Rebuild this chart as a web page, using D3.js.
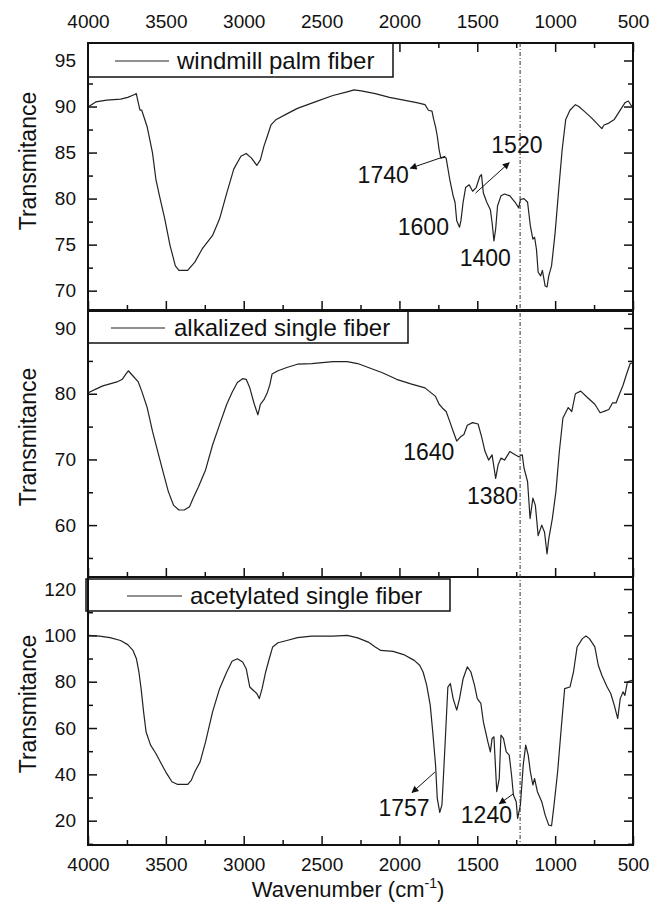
<!DOCTYPE html>
<html>
<head>
<meta charset="utf-8">
<script src="https://cdn.jsdelivr.net/npm/d3@7"></script>
<style>
  body { margin: 0; background: #fff; }
  svg text { font-family: "Liberation Sans", Arial, sans-serif; fill: #111; }
</style>
</head>
<body>
<svg id="chart" width="651" height="902"></svg>
<script>
// ---- data ----
var wnTicks = [4000, 3500, 3000, 2500, 2000, 1500, 1000, 500]
var wnMinor = [3750, 3250, 2750, 2250, 1750, 1250, 750]

var seriesNames = ['windmill palm fiber', 'alkalized single fiber', 'acetylated single fiber']

// [wavenumber, transmitance]
var palmFiber = [[3995,90.0],[3950,90.5],[3880,90.7],[3790,90.8],[3745,91.0],[3700,91.3],[3690,91.4],[3677,90.4],[3666,89.6],[3655,89.6],[3620,87.8],[3586,85.0],[3564,82.1],[3541,80.3],[3507,77.8],[3473,74.9],[3439,72.7],[3416,72.2],[3360,72.2],[3314,73.1],[3268,74.5],[3200,76.0],[3155,77.8],[3109,80.6],[3064,83.2],[3018,84.6],[2984,84.9],[2950,84.4],[2916,83.6],[2893,84.2],[2870,85.7],[2848,86.8],[2825,88.0],[2791,88.6],[2723,89.2],[2655,89.8],[2541,90.5],[2427,91.2],[2336,91.6],[2291,91.8],[2245,91.7],[2155,91.4],[2064,91.0],[1973,90.7],[1882,90.4],[1836,90.2],[1814,89.6],[1791,89.5],[1780,88.6],[1768,87.8],[1757,86.8],[1745,85.3],[1734,84.4],[1711,84.5],[1700,84.4],[1677,82.1],[1655,80.3],[1643,79.6],[1632,77.6],[1614,76.9],[1605,77.6],[1591,79.6],[1575,81.2],[1552,81.5],[1530,80.8],[1507,81.2],[1484,82.4],[1473,82.6],[1461,80.6],[1439,79.6],[1416,78.8],[1405,77.4],[1393,75.4],[1382,76.7],[1370,79.2],[1348,80.3],[1325,80.5],[1291,80.3],[1257,79.6],[1234,79.0],[1223,79.9],[1200,80.0],[1177,79.6],[1159,77.0],[1143,75.6],[1132,75.8],[1120,74.5],[1109,72.0],[1093,71.6],[1082,72.2],[1064,70.5],[1052,70.4],[1041,71.6],[1023,72.7],[1000,76.3],[977,81.0],[955,85.3],[932,88.6],[905,89.6],[870,90.2],[848,90.0],[814,89.5],[768,88.8],[734,88.2],[700,87.6],[686,88.0],[655,88.2],[620,88.6],[586,89.5],[552,90.4],[530,90.6],[507,90.0]]

var alkalizedFiber = [[3995,80.2],[3950,80.7],[3905,81.2],[3859,81.5],[3814,81.8],[3780,82.2],[3757,83.0],[3741,83.5],[3711,82.7],[3677,81.8],[3655,80.4],[3620,77.9],[3586,74.3],[3552,71.2],[3518,68.1],[3484,65.1],[3450,63.0],[3416,62.3],[3382,62.3],[3348,62.8],[3325,64.1],[3291,65.8],[3245,68.4],[3200,72.2],[3155,75.3],[3109,78.4],[3075,80.2],[3041,81.7],[3007,82.3],[2984,82.2],[2961,80.9],[2932,78.4],[2909,76.8],[2893,78.4],[2870,79.1],[2848,80.2],[2832,81.4],[2818,83.0],[2780,83.5],[2723,84.0],[2655,84.5],[2564,84.6],[2427,84.9],[2336,84.9],[2268,84.6],[2200,84.0],[2109,83.2],[2018,82.2],[1927,81.5],[1836,80.9],[1768,79.6],[1745,78.4],[1723,77.8],[1700,77.3],[1677,75.8],[1655,74.3],[1632,72.8],[1609,73.4],[1586,73.8],[1564,75.2],[1530,75.6],[1495,75.4],[1473,73.5],[1450,71.2],[1427,69.9],[1405,70.7],[1382,67.1],[1366,69.2],[1348,70.2],[1325,69.9],[1291,71.2],[1257,70.7],[1234,70.4],[1211,70.7],[1200,68.7],[1177,66.6],[1161,61.0],[1143,64.1],[1127,63.0],[1109,58.4],[1086,60.0],[1068,58.9],[1052,55.6],[1041,57.9],[1018,61.0],[995,65.1],[973,71.2],[950,76.3],[916,77.9],[893,77.3],[870,80.0],[836,80.4],[791,79.4],[745,78.4],[711,77.1],[677,77.4],[655,77.6],[632,78.6],[609,78.6],[586,80.0],[564,81.3],[541,83.0],[518,84.6],[502,84.7]]

var acetylatedFiber = [[3995,100],[3927,99.7],[3859,99.0],[3791,97.8],[3745,96.0],[3711,93.5],[3689,89.9],[3673,84.2],[3659,77.0],[3643,67.0],[3627,58.3],[3598,52.6],[3564,49.0],[3530,44.7],[3495,40.4],[3461,36.8],[3427,35.7],[3359,35.7],[3336,37.5],[3314,41.1],[3280,45.4],[3245,54.0],[3200,67.0],[3155,77.0],[3109,84.2],[3075,88.8],[3041,89.9],[3007,88.5],[2984,85.6],[2961,77.7],[2939,76.3],[2916,74.9],[2900,72.7],[2882,77.0],[2859,84.2],[2836,89.9],[2814,95.0],[2780,96.8],[2723,97.8],[2655,99.0],[2564,99.7],[2427,99.7],[2336,100],[2268,98.9],[2200,97.1],[2155,95.0],[2120,93.5],[2041,93.1],[1973,91.7],[1905,89.2],[1870,87.1],[1848,84.2],[1825,78.5],[1802,69.8],[1786,58.3],[1768,44.0],[1757,29.6],[1741,23.6],[1727,26.8],[1718,38.2],[1705,55.5],[1689,77.7],[1673,79.2],[1655,72.7],[1632,67.7],[1614,72.7],[1591,81.3],[1564,86.4],[1541,84.2],[1518,78.5],[1500,72.7],[1477,70.6],[1461,62.7],[1432,54.0],[1416,49.7],[1405,55.5],[1393,56.2],[1375,32.5],[1359,38.2],[1348,56.9],[1332,55.5],[1314,49.7],[1295,48.3],[1280,39.7],[1268,31.1],[1250,28.2],[1241,21.0],[1223,26.8],[1205,44.0],[1189,52.6],[1173,48.3],[1159,41.1],[1143,35.4],[1132,38.2],[1114,32.5],[1086,28.2],[1064,22.4],[1041,18.1],[1023,17.8],[1007,26.8],[984,41.1],[961,59.8],[939,77.0],[905,77.7],[882,84.2],[859,95.0],[825,98.6],[802,99.7],[780,98.6],[745,95.0],[723,87.1],[700,82.8],[666,77.7],[643,74.9],[620,69.8],[598,64.1],[582,72.7],[564,75.6],[552,74.1],[536,79.9],[507,80.6]]

var yTicks = [[70, 75, 80, 85, 90, 95], [60, 70, 80, 90], [20, 40, 60, 80, 100, 120]]
var yMinor = [[67.5, 72.5, 77.5, 82.5, 87.5, 92.5], [55, 65, 75, 85], [10, 30, 50, 70, 90, 110]]

// peak labels: text at [wn, T], optional arrow [wn, T] -> [wn, T]
var peakLabels = [
  [
    { text: '1740', at: [1940, 81.7], arrow: [[1705, 84.6], [1930, 83.3]] },
    { text: '1520', at: [1410, 85.0], anchor: 'start', arrow: [[1511, 80.6], [1295, 83.9]] },
    { text: '1600', at: [1682, 76.0] },
    { text: '1400', at: [1284, 72.7] }
  ],
  [
    { text: '1640', at: [1647, 69.9] },
    { text: '1380', at: [1238, 63.2] }
  ],
  [
    { text: '1757', at: [1806, 22.0], arrow: [[1772, 41.0], [1919, 32.1]] },
    { text: '1240', at: [1277, 19.0], arrow: [[1268, 31.6], [1359, 27.3]] }
  ]
]
var markerLine = 1225

// ---- layout ----
var left = 88, right = 633
var panels = [
  { top: 43, bottom: 310, domain: [67.9, 96.9], data: palmFiber, legendW: 305, titleY: 161,
    legendLine: [115, 169], legendTextX: 177 },
  { top: 311, bottom: 577, domain: [52.1, 92.6], data: alkalizedFiber, legendW: 320, titleY: 437,
    legendLine: [111, 165], legendTextX: 174 },
  { top: 577, bottom: 845, domain: [9.5, 125.2], data: acetylatedFiber, legendW: 364, titleY: 704,
    legendLine: [127, 182], legendTextX: 190 }
]

var svg = d3.select('#chart')
var x = d3.scaleLinear().domain([4000, 500]).range([left, right])

var defs = svg.append('defs')
defs.append('marker')
  .attr('id', 'arrow')
  .attr('viewBox', '0 0 10 10')
  .attr('refX', 9).attr('refY', 5)
  .attr('markerWidth', 9).attr('markerHeight', 7)
  .attr('markerUnits', 'userSpaceOnUse')
  .attr('orient', 'auto')
  .append('path')
  .attr('d', 'M0,0 L10,5 L0,10 Z')
  .attr('fill', '#111')

function styleTicks (g) {
  g.select('.domain').remove()
  g.selectAll('.tick line').attr('stroke', '#111').attr('stroke-width', 1.5)
  g.selectAll('.tick text').attr('font-size', '19px').attr('fill', '#111')
}

panels.forEach(function (p, i) {
  var y = d3.scaleLinear().domain(p.domain).range([p.bottom, p.top])
  var g = svg.append('g')

  // left axis (major + minor), inward ticks
  g.append('g').attr('transform', 'translate(' + left + ',0)')
    .call(d3.axisLeft(y).tickValues(yTicks[i]).tickSize(-9).tickPadding(12).tickFormat(d3.format('d')))
    .call(styleTicks)
  g.append('g').attr('transform', 'translate(' + left + ',0)')
    .call(d3.axisLeft(y).tickValues(yMinor[i]).tickSize(-5).tickFormat(''))
    .call(styleTicks)
  // right axis
  g.append('g').attr('transform', 'translate(' + right + ',0)')
    .call(d3.axisRight(y).tickValues(yTicks[i]).tickSize(-9).tickFormat(''))
    .call(styleTicks)
  g.append('g').attr('transform', 'translate(' + right + ',0)')
    .call(d3.axisRight(y).tickValues(yMinor[i]).tickSize(-5).tickFormat(''))
    .call(styleTicks)

  // bottom ticks of each panel
  g.append('g').attr('transform', 'translate(0,' + p.bottom + ')')
    .call(d3.axisBottom(x).tickValues(wnTicks).tickSize(-9).tickPadding(13).tickFormat(i === 2 ? d3.format('d') : ''))
    .call(styleTicks)
  g.append('g').attr('transform', 'translate(0,' + p.bottom + ')')
    .call(d3.axisBottom(x).tickValues(wnMinor).tickSize(-5).tickFormat(''))
    .call(styleTicks)

  if (i === 0) {
    g.append('g').attr('transform', 'translate(0,' + p.top + ')')
      .call(d3.axisTop(x).tickValues(wnTicks).tickSize(-9).tickPadding(15).tickFormat(d3.format('d')))
      .call(styleTicks)
    g.append('g').attr('transform', 'translate(0,' + p.top + ')')
      .call(d3.axisTop(x).tickValues(wnMinor).tickSize(-5).tickFormat(''))
      .call(styleTicks)
  }

  // spectrum
  var line = d3.line()
    .x(function (d) { return x(d[0]) })
    .y(function (d) { return y(d[1]) })
  g.append('path')
    .datum(p.data)
    .attr('fill', 'none')
    .attr('stroke', '#222')
    .attr('stroke-width', 1.2)
    .attr('stroke-linejoin', 'round')
    .attr('d', line)

  // peak labels
  peakLabels[i].forEach(function (a) {
    g.append('text')
      .attr('x', x(a.at[0]))
      .attr('y', y(a.at[1]))
      .attr('text-anchor', a.anchor || 'end')
      .attr('font-size', '23px')
      .text(a.text)
    if (a.arrow) {
      g.append('line')
        .attr('x1', x(a.arrow[0][0])).attr('y1', y(a.arrow[0][1]))
        .attr('x2', x(a.arrow[1][0])).attr('y2', y(a.arrow[1][1]))
        .attr('stroke', '#111')
        .attr('stroke-width', 1)
        .attr('marker-end', 'url(#arrow)')
    }
  })

  // legend box
  var lx = i === 2 ? left - 2 : left
  var lTop = p.top + (i === 2 ? 2 : 0)
  var lH = i === 0 ? 34 : 32
  g.append('rect')
    .attr('x', lx).attr('y', lTop)
    .attr('width', p.legendW).attr('height', lH)
    .attr('fill', '#fff')
    .attr('stroke', '#111')
    .attr('stroke-width', 1.5)
  g.append('line')
    .attr('x1', p.legendLine[0]).attr('x2', p.legendLine[1])
    .attr('y1', lTop + lH / 2 + 1).attr('y2', lTop + lH / 2 + 1)
    .attr('stroke', '#222').attr('stroke-width', 1.2)
  g.append('text')
    .attr('x', p.legendTextX)
    .attr('y', lTop + lH / 2 + 1)
    .attr('dy', '0.35em')
    .attr('font-size', '24px')
    .text(seriesNames[i])

  // y title
  svg.append('text')
    .attr('transform', 'translate(28,' + p.titleY + ') rotate(-90)')
    .attr('text-anchor', 'middle')
    .attr('dy', '0.35em')
    .attr('font-size', '23px')
    .text('Transmitance')

  // frame
  g.append('rect')
    .attr('x', left).attr('y', p.top)
    .attr('width', right - left).attr('height', p.bottom - p.top)
    .attr('fill', 'none')
    .attr('stroke', '#111')
    .attr('stroke-width', 2)
})

// vertical dash-dot reference line
svg.append('line')
  .attr('x1', x(markerLine)).attr('x2', x(markerLine))
  .attr('y1', panels[0].top).attr('y2', panels[2].bottom)
  .attr('stroke', '#333')
  .attr('stroke-width', 1)
  .attr('stroke-dasharray', '4,2,1,2')

// x title
var xt = svg.append('text')
  .attr('x', 348)
  .attr('y', 897)
  .attr('text-anchor', 'middle')
  .attr('font-size', '22px')
xt.append('tspan').text('Wavenumber (cm')
xt.append('tspan').attr('dy', -9).attr('font-size', '14px').text('-1')
xt.append('tspan').attr('dy', 9).text(')')
</script>
</body>
</html>
